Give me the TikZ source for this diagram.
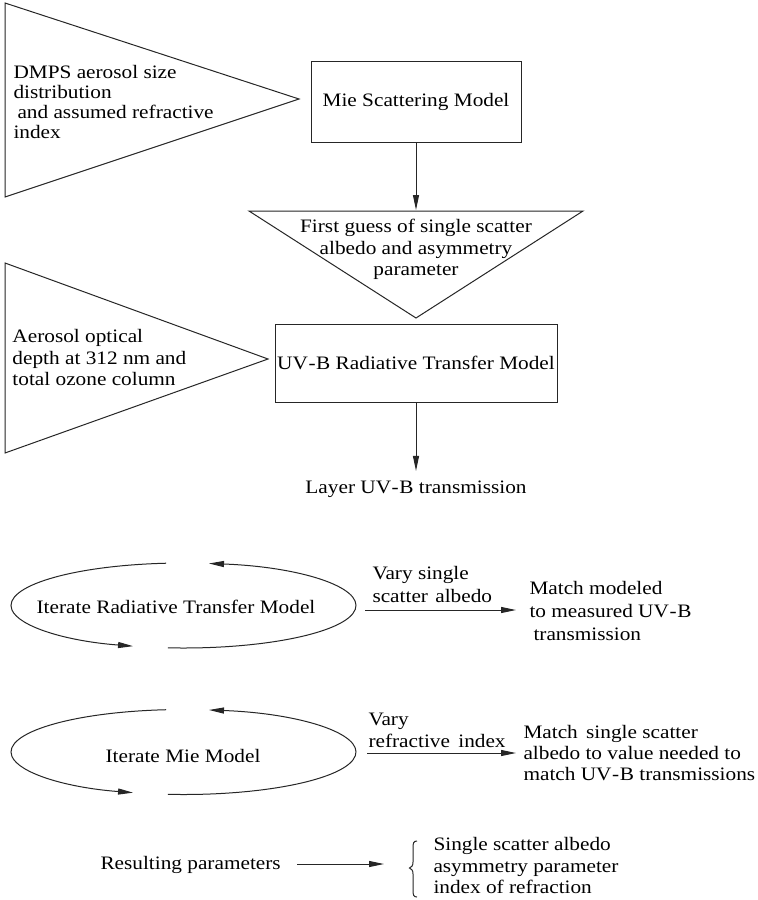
\documentclass[tikz,border=0pt]{standalone}
\usepackage{fontspec}
\setmainfont{Liberation Serif}[FakeStretch=1.12]
\usetikzlibrary{arrows.meta,calc}
\newcommand{\uvb}{UV{\kern0.6pt}-{\kern0.6pt}B}
\begin{document}
\begin{tikzpicture}[x=1pt,y=-1pt,
  line width=1pt, draw=black!85,
  arr/.style={draw=black!85,-{Triangle[length=15pt,width=6pt]}},
  txt/.style={inner sep=0pt, font=\fontsize{19}{21}\selectfont},
  boxnode/.style={draw=black!85, line width=1pt, inner sep=0pt, font=\fontsize{19}{21}\selectfont}]
\useasboundingbox (0,0) rectangle (758,900);
\fill[white] (0,0) rectangle (758,900);

% triangles
\coordinate (t1a) at (5,3);
\coordinate (t1b) at (5,197);
\coordinate (t1c) at (299,99);
\draw (t1a) -- (t1c) -- (t1b) -- cycle;
\coordinate (t2a) at (249,211);
\coordinate (t2b) at (583,211);
\coordinate (t2c) at (416,318);
\coordinate (t2top) at (416,210);
\draw (t2a) -- (t2b) -- (t2c) -- cycle;
\coordinate (t3a) at (5,263);
\coordinate (t3b) at (5,453);
\coordinate (t3c) at (268,359);
\draw (t3a) -- (t3c) -- (t3b) -- cycle;

% texts in triangles
\node[txt, anchor=north west, align=left, font=\fontsize{19}{20}\selectfont] (dmps) at (13,64)
  {\strut DMPS aerosol size\\distribution\\\hspace{4pt}and assumed refractive\\index};
\node[txt, anchor=north, align=center, font=\fontsize{19}{21.5}\selectfont] (guess) at (416,217.3)
  {\strut First guess of single scatter\\albedo and asymmetry\\parameter};
\node[txt, anchor=north west, align=left, font=\fontsize{19}{21.5}\selectfont] (aod) at (12,327)
  {\strut Aerosol optical\\depth at 312 nm and\\total ozone column};

% boxes
\node[boxnode, minimum width=210pt, minimum height=81pt] (mie) at (416,101.5) {Mie Scattering Model};
\node[boxnode, minimum width=282pt, minimum height=78pt] (uvbox) at (416,363) {\uvb{} Radiative Transfer Model};
\node[txt, anchor=base] (layer) at (416,493) {Layer \uvb{} transmission};

\draw[arr] (mie.south) -- (t2top);
\draw[arr] (uvbox.south) -- ($(layer.north)+(0,-9)$);

% iterate ellipses
\coordinate (e1) at (183.5,605.5);
\coordinate (e2) at (183.5,752);
\foreach \c in {e1,e2}{
  \draw[arr] (\c) ++(264.2:172.5 and 42.5) arc[start angle=264.2, end angle=107, x radius=172.5, y radius=42.5];
  \draw[arr] (\c) ++(95.2:172.5 and 42.5) arc[start angle=95.2, end angle=-81.5, x radius=172.5, y radius=42.5];
}
\node[txt, anchor=base] (it1) at (176,613) {Iterate Radiative Transfer Model};
\node[txt, anchor=base] (it2) at (183,762) {Iterate Mie Model};

% first iteration arrow
\coordinate (a1s) at (365,610);
\coordinate (a1e) at (516,610);
\draw[arr] (a1s) -- (a1e);
\node[txt, anchor=north west, align=left, font=\fontsize{19}{23}\selectfont] (vary1) at (372,563)
  {\strut Vary single\\scatter\hspace{2pt} albedo};
\node[txt, anchor=north west, align=left, font=\fontsize{19}{23}\selectfont] (match1) at (529,578)
  {\strut Match modeled\\to measured \uvb\\\hspace{4pt}transmission};

% second iteration arrow
\coordinate (a2s) at (367,753);
\coordinate (a2e) at (516,753);
\draw[arr] (a2s) -- (a2e);
\node[txt, anchor=north west, align=left, font=\fontsize{19}{22}\selectfont] (vary2) at (368,710)
  {\strut Vary\\refractive\hspace{3pt} index};
\node[txt, anchor=north west, align=left, font=\fontsize{19}{21}\selectfont] (match2) at (523,723)
  {\strut Match\hspace{3pt} single scatter\\albedo to value needed to\\match \uvb{} transmissions};

% resulting
\node[txt, anchor=base west] (res) at (100,869) {Resulting parameters};
\coordinate (a3s) at (297,864);
\coordinate (a3e) at (384,864);
\draw[arr] (a3s) -- (a3e);
\draw (417,841) .. controls (413.5,841) and (413,843) .. (413,848) -- (413,862)
  .. controls (413,866) and (411.5,867) .. (409.5,868)
  .. controls (411.5,869) and (413,870) .. (413,874) -- (413,890)
  .. controls (413,895) and (413.5,897) .. (417,897);
\node[txt, anchor=north west, align=left, font=\fontsize{19}{21.5}\selectfont] (params) at (433,835)
  {\strut Single scatter albedo\\asymmetry parameter\\index of refraction};
\end{tikzpicture}
\end{document}
